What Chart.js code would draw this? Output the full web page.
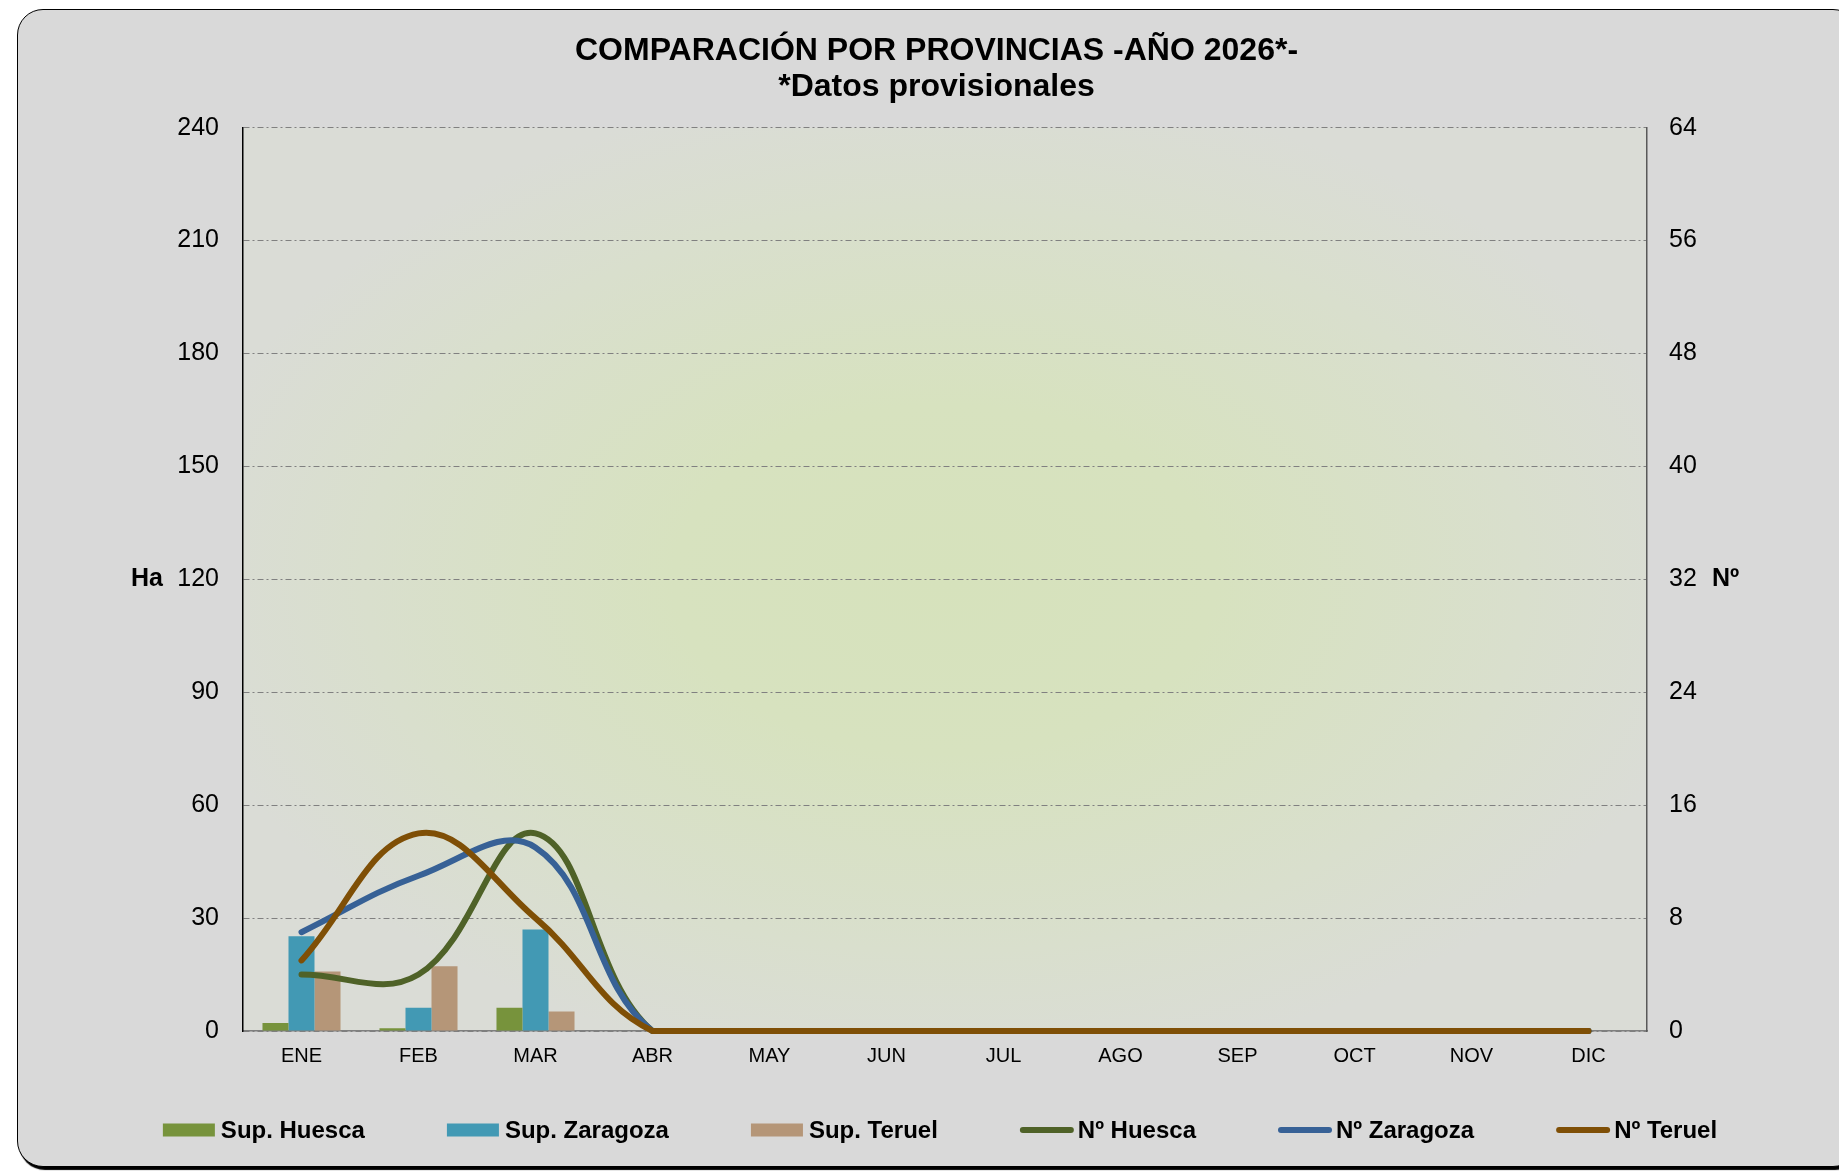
<!DOCTYPE html>
<html lang="es">
<head>
<meta charset="utf-8">
<title>Comparación por provincias</title>
<script src="https://cdn.jsdelivr.net/npm/chart.js@4.4.1/dist/chart.umd.min.js"></script>
<style>
    html, body { margin: 0; padding: 0; background: #fff; }
    #frame {
        position: absolute; left: 17px; top: 9px; width: 1840px; height: 1156px;
        background: #d9d9d9; border: 1px solid #000; border-radius: 26px;
        box-shadow: 2px 3px 1px #000;
    }
    #chart { position: absolute; left: 0; top: 0; }
</style>
</head>
<body>
<div id="frame"></div>
<canvas id="chart" width="1839" height="1172"></canvas>
<script>
// ==================== DATA ====================

const months = ['ENE', 'FEB', 'MAR', 'ABR', 'MAY', 'JUN', 'JUL', 'AGO', 'SEP', 'OCT', 'NOV', 'DIC'];

// superficie (Ha), eje izquierdo
const supHuesca   = [2.1, 0.7, 6.2, 0, 0, 0, 0, 0, 0, 0, 0, 0];
const supZaragoza = [25.2, 6.2, 27.0, 0, 0, 0, 0, 0, 0, 0, 0, 0];
const supTeruel   = [15.8, 17.2, 5.2, 0, 0, 0, 0, 0, 0, 0, 0, 0];

// número, eje derecho
const numHuesca   = [4, 4, 14, 0, 0, 0, 0, 0, 0, 0, 0, 0];
const numZaragoza = [7, 11, 13, 0, 0, 0, 0, 0, 0, 0, 0, 0];
const numTeruel   = [5, 14, 8, 0, 0, 0, 0, 0, 0, 0, 0, 0];

const haTicks = { min: 0, max: 240, step: 30 };
const numTicks = { min: 0, max: 64, step: 8 };

const titleLines = ['COMPARACIÓN POR PROVINCIAS -AÑO 2026*-', '*Datos provisionales'];

const FONT = "'Liberation Sans', Arial, sans-serif";

// ==================== PLUGINS ====================

// fondo degradado del área de trazado (verde claro en el centro)
const plotBackground = {
    id: 'plotBackground',
    beforeDraw(chart) {
        const { ctx, chartArea: a } = chart;
        ctx.save();
        ctx.translate((a.left + a.right) / 2, (a.top + a.bottom) / 2);
        ctx.scale((a.right - a.left) / 2, (a.bottom - a.top) / 2);
        const g = ctx.createRadialGradient(0, 0, 0, 0, 0, 1.1);
        g.addColorStop(0, '#d6e2bc');
        g.addColorStop(0.35, '#d7e2bf');
        g.addColorStop(0.75, '#d9dfcd');
        g.addColorStop(1, '#dadcd6');
        ctx.fillStyle = g;
        ctx.fillRect(-1, -1, 2, 2);
        ctx.restore();
    }
};

// títulos horizontales de los ejes ("Ha" y "Nº")
const axisNames = {
    id: 'axisNames',
    afterDraw(chart) {
        const { ctx, scales } = chart;
        ctx.save();
        ctx.font = 'bold 25px ' + FONT;
        ctx.fillStyle = '#000';
        ctx.textBaseline = 'middle';
        ctx.textAlign = 'right';
        ctx.fillText('Ha', 163, scales.y.getPixelForValue(120));
        ctx.textAlign = 'left';
        ctx.fillText('Nº', 1712, scales.y1.getPixelForValue(32));
        ctx.restore();
    }
};

// leyenda inferior: marca pegada al texto, como en Excel
const bottomLegend = {
    id: 'bottomLegend',
    afterDraw(chart) {
        const { ctx } = chart;
        const markW = 54, gap = 4, spacing = 82, centerX = 940, y = 1130;
        ctx.save();
        ctx.font = 'bold 24px ' + FONT;
        ctx.textBaseline = 'middle';
        const items = chart.data.datasets.map(ds => ({ ds, w: ctx.measureText(ds.label).width }));
        const total = items.reduce((s, it) => s + markW + gap + it.w, 0) + spacing * (items.length - 1);
        let x = centerX - total / 2;
        items.forEach(({ ds, w }) => {
            if (ds.type === 'line') {
                ctx.strokeStyle = ds.borderColor;
                ctx.lineWidth = 6;
                ctx.lineCap = 'round';
                ctx.beginPath();
                ctx.moveTo(x + 3, y);
                ctx.lineTo(x + markW - 3, y);
                ctx.stroke();
            } else {
                ctx.fillStyle = ds.backgroundColor;
                ctx.fillRect(x, y - 6.5, markW - 2, 13);
            }
            ctx.fillStyle = '#000';
            ctx.fillText(ds.label, x + markW + gap, y + 1);
            x += markW + gap + w + spacing;
        });
        ctx.restore();
    }
};

// ==================== CHART ====================

Chart.defaults.font.family = FONT;
Chart.defaults.color = '#000';

function barSet(label, data, color) {
    return { type: 'bar', label, data, backgroundColor: color, borderWidth: 0, yAxisID: 'y', order: 4 };
}

function lineSet(label, data, color, order) {
    return {
        type: 'line', label, data, borderColor: color, backgroundColor: color,
        borderWidth: 6, pointRadius: 0, tension: 0.4, fill: false, clip: 4,
        borderCapStyle: 'round', yAxisID: 'y1', order
    };
}

new Chart(document.getElementById('chart'), {
    data: {
        labels: months,
        datasets: [
            barSet('Sup. Huesca', supHuesca, '#77933c'),
            barSet('Sup. Zaragoza', supZaragoza, '#4299b4'),
            barSet('Sup. Teruel', supTeruel, '#b59678'),
            lineSet('Nº Huesca', numHuesca, '#4f6228', 2),
            lineSet('Nº Zaragoza', numZaragoza, '#376196', 1),
            lineSet('Nº Teruel', numTeruel, '#7f4f06', 0)
        ]
    },
    options: {
        responsive: false,
        animation: false,
        layout: { padding: { left: 44, right: 10, top: 0, bottom: 101 } },
        datasets: {
            bar: { categoryPercentage: 0.667, barPercentage: 1 }
        },
        plugins: {
            title: {
                display: true,
                text: titleLines,
                color: '#000',
                font: { size: 32, weight: 'bold', lineHeight: 1.12 },
                padding: { top: 33, bottom: 23 }
            },
            legend: { display: false },
            tooltip: { enabled: false }
        },
        scales: {
            x: {
                grid: { display: false, drawTicks: false },
                border: { display: true, color: '#7f7f7f', width: 1.5 },
                ticks: { font: { size: 20 }, color: '#000', padding: 13, autoSkip: false, maxRotation: 0 },
                afterFit(scale) { scale.height = 40; }
            },
            y: {
                position: 'left',
                min: haTicks.min, max: haTicks.max,
                grid: { color: '#808080', lineWidth: 1, drawTicks: false },
                border: { display: true, color: '#000', width: 1.5, dash: [6, 3, 2, 3] },
                ticks: { stepSize: haTicks.step, font: { size: 25 }, color: '#000', padding: 24 },
                afterFit(scale) { scale.width = 199; }
            },
            y1: {
                position: 'right',
                min: numTicks.min, max: numTicks.max,
                grid: { drawOnChartArea: false, drawTicks: false },
                border: { display: true, color: '#595959', width: 1.5 },
                ticks: { stepSize: numTicks.step, font: { size: 25 }, color: '#000', padding: 22 },
                afterFit(scale) { scale.width = 182; }
            }
        }
    },
    plugins: [plotBackground, axisNames, bottomLegend]
});
</script>
</body>
</html>
